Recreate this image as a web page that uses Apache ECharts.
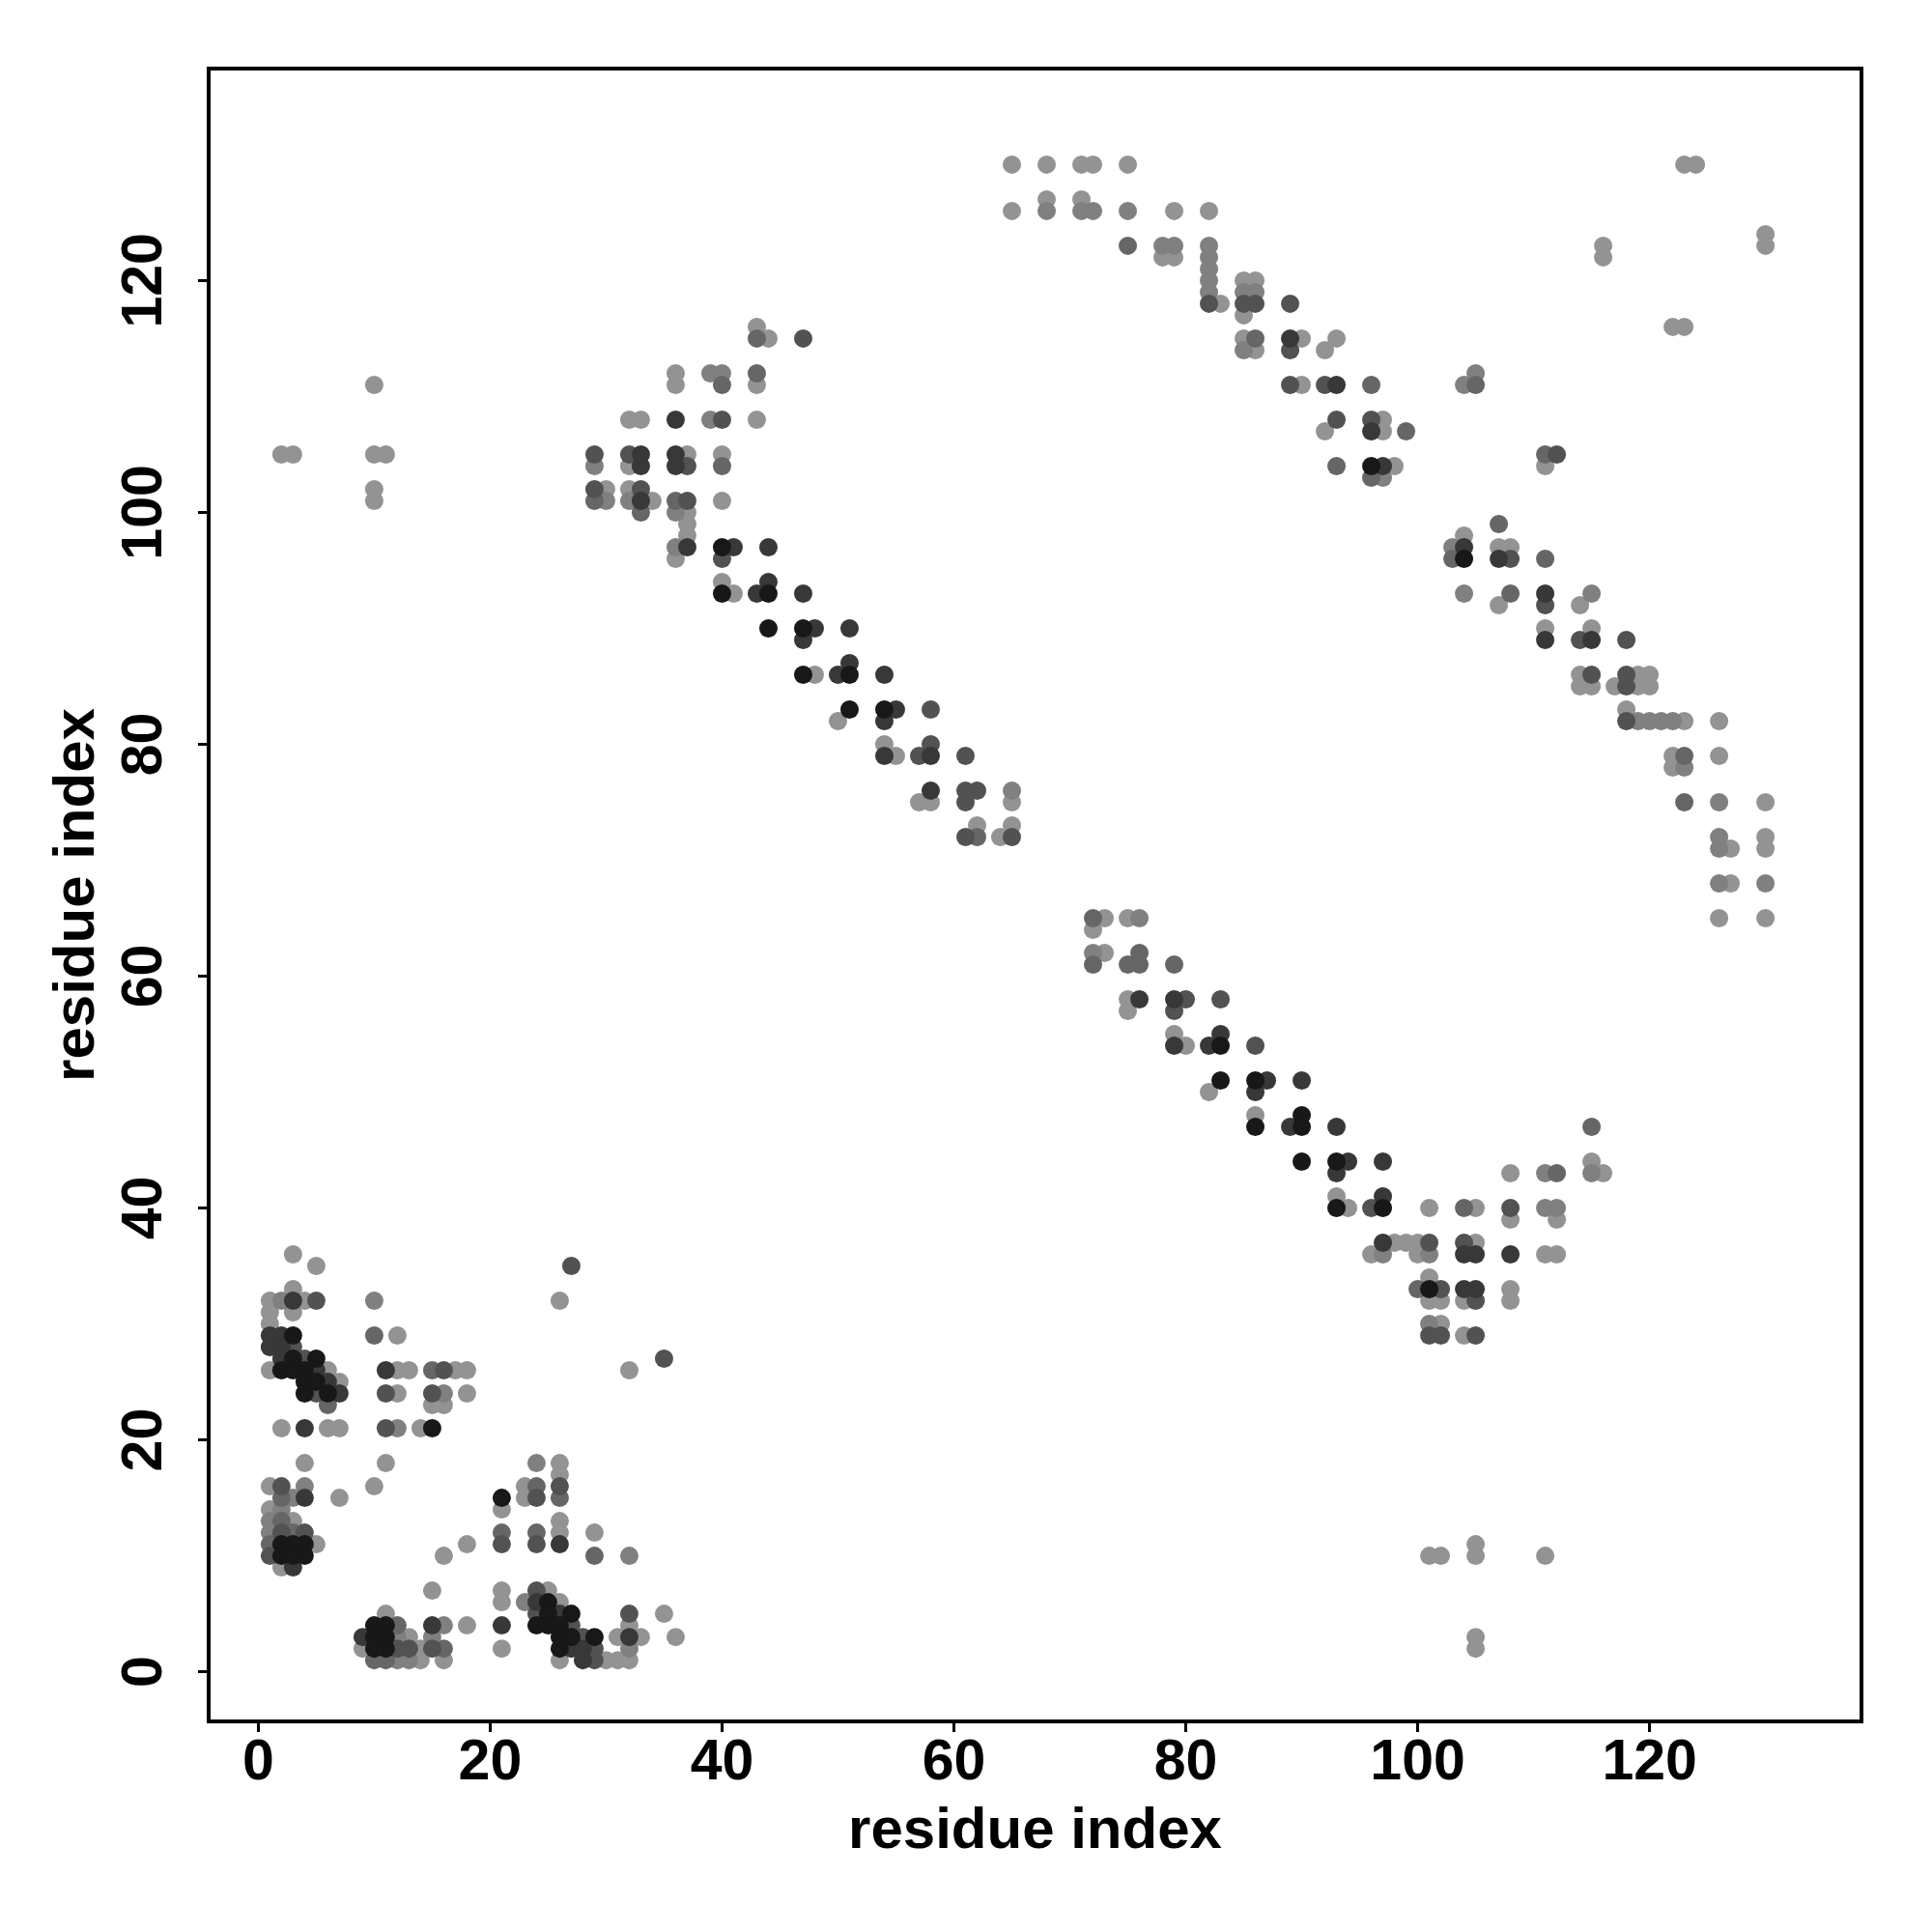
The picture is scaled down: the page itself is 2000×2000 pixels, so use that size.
<!DOCTYPE html>
<html>
<head>
<meta charset="utf-8">
<script src="https://cdn.jsdelivr.net/npm/echarts@6/dist/echarts.min.js"></script>
<style>html,body{margin:0;padding:0;background:#fff}#c{width:2000px;height:2000px}</style>
</head>
<body>
<div id="c"></div>
<script>
// contact strength levels (0 = weak/light, 1 = strong/dark)
const L = 0, LM = 0.15, M = 0.35, MD = 0.5, D = 0.7, K = 0.95;

const xTicks = [0, 20, 40, 60, 80, 100, 120];
const yTicks = [0, 20, 40, 60, 80, 100, 120];

// [residue i, residue j, strength]
const clusterA = [
[4,18,L],[11,18,L],
[1,16,L],[2,16,MD],[4,16,LM],[10,16,L],
[2,15,M],[3,15,LM],[4,15,D],[7,15,L],
[1,14,L],[2,14,LM],
[1,13,LM],[2,13,M],[3,13,L],
[1,12,LM],[2,12,MD],[3,12,M],[4,12,MD],
[1,11,M],[2,11,K],[3,11,K],[4,11,K],[5,11,L],
[1,10,MD],[2,10,K],[3,10,K],[4,10,K],
[2,9,L],[3,9,D],
[16,10,L],[18,11,L],[15,7,L],[11,5,L],
[10,4,K],[11,4,K],[12,4,M],[15,4,D],[16,4,LM],[18,4,L],
[9,3,D],[10,3,K],[11,3,K],[12,3,LM],[13,3,L],[15,3,LM],
[9,2,L],[10,2,K],[11,2,K],[12,2,MD],[13,2,MD],[14,2,L],[15,2,MD],[16,2,M],
[10,1,M],[11,1,M],[12,1,LM],[13,1,LM],[14,1,L],[16,1,L]
];
const clusterB = [
[3,36,L],[5,35,L],[3,33,L],
[1,32,L],[2,32,LM],[3,32,D],[4,32,L],[5,32,MD],[10,32,LM],
[1,31,L],[3,31,L],[1,30,L],
[1,29,D],[2,29,D],[3,29,K],[10,29,M],[12,29,L],
[1,28,D],[2,28,D],[3,28,MD],
[2,27,D],[3,27,K],[4,27,MD],[5,27,K],
[1,26,L],[2,26,K],[3,26,K],[4,26,K],[5,26,D],[6,26,L],
[4,25,K],[5,25,K],[6,25,D],[7,25,L],
[4,24,K],[5,24,MD],[6,24,K],[7,24,D],
[6,23,M],
[2,21,L],[4,21,D],[6,21,L],[7,21,L],
[11,26,D],[12,26,L],[13,26,L],[15,26,M],[16,26,MD],[17,26,L],[18,26,L],
[11,24,MD],[12,24,L],[15,24,MD],[16,24,LM],[18,24,L],
[15,23,L],[16,23,L],
[11,21,MD],[12,21,LM],[14,21,L],[15,21,K]
];
const clusterC = [
[24,18,LM],[26,18,L],[26,17,L],
[23,16,L],[24,16,M],[26,16,MD],
[21,15,K],[23,15,L],[24,15,MD],[26,15,M],
[21,14,L],[26,13,L],
[21,12,M],[24,12,M],[26,12,L],[29,12,L],
[21,11,MD],[24,11,MD],[26,11,D],
[29,10,M],[32,10,LM],
[21,7,L],[24,7,MD],[25,7,L],
[21,6,L],[23,6,LM],[24,6,D],[25,6,K],[26,6,L],
[24,5,MD],[25,5,K],[26,5,D],[27,5,K],
[21,4,D],[24,4,K],[25,4,K],[26,4,K],[27,4,MD],
[26,3,K],[27,3,K],[28,3,MD],[29,3,K],
[21,2,L],[26,2,K],[27,2,D],[28,2,D],[29,2,MD],
[26,1,L],[28,1,D],[29,1,MD],[30,1,L],[31,1,L],[32,1,L],
[32,5,MD],[32,4,L],[31,3,L],[32,3,D],[33,3,L],[32,2,LM],
[35,5,L],[36,3,L],
[27,35,MD],[26,32,L],[32,26,L],[35,27,MD]
];
const clusterD = [
[2,105,L],[3,105,L],[10,111,L],[10,105,L],[11,105,L],[10,102,L],[10,101,L]
];
const clusterE = [
[43,116,L],[43,115,M],[44,115,L],[47,115,MD],
[36,112,L],[36,111,L],[39,112,LM],[40,112,LM],[40,111,M],[43,112,M],[43,111,L],
[32,108,L],[33,108,L],[36,108,D],[39,108,LM],[40,108,MD],[43,108,L],
[29,105,MD],[29,104,LM],[32,105,MD],[33,105,D],[32,104,L],[33,104,D],
[36,105,D],[37,105,L],[36,104,D],[37,104,MD],[40,105,L],[40,104,M],
[29,102,MD],[29,101,M],[30,102,L],[30,101,LM],
[32,102,L],[33,102,MD],[32,101,LM],[33,101,D],[34,101,L],[33,100,M],
[36,101,M],[37,101,MD],[36,100,LM],[37,100,L],[37,99,L],[37,98,L],[40,101,L],
[36,97,LM],[37,97,D],[36,96,L],
[40,97,K],[41,97,D],[40,96,MD],[44,97,D],
[40,94,L],[40,93,K],[41,93,L],[43,93,D],[44,94,D],[44,93,K],[47,93,D],
[44,90,K],[47,90,K],[48,90,D],[47,89,D],
[47,86,K],[48,86,L],[50,86,D]
];
const clusterF = [
[51,90,D],[51,87,D],[51,86,K],[54,86,D],
[51,83,K],[50,82,L],[54,83,K],[55,83,D],[54,82,D],[58,83,MD],
[54,80,L],[54,79,D],[55,79,L],[57,79,MD],[58,80,MD],[58,79,D],[61,79,MD],
[57,75,L],[58,75,L],[58,76,D],
[61,76,MD],[62,76,MD],[61,75,MD],[65,76,LM],[65,75,L],
[61,72,MD],[62,73,L],[62,72,M],[64,72,L],[65,73,L],[65,72,MD]
];
const clusterG = [
[65,130,L],[68,130,L],[71,130,L],[72,130,L],[75,130,L],
[65,126,L],[68,127,L],[68,126,LM],[71,127,L],[71,126,LM],[72,126,LM],[75,126,LM],[79,126,L],[82,126,L],
[75,123,M],[78,123,LM],[79,123,LM],[78,122,L],[79,122,L],
[82,123,LM],[82,122,LM],[82,121,LM],[82,120,LM],[82,119,LM],[82,118,MD],[83,118,L],
[85,120,L],[86,120,L],[85,119,LM],[86,119,LM],[85,118,MD],[86,118,MD],[85,117,L],
[89,118,MD],
[85,115,L],[86,115,M],[85,114,LM],[86,114,L],
[89,115,D],[90,115,L],[89,114,MD],
[89,111,MD],[90,111,L]
];
const clusterH = [
[93,115,L],[92,114,L],
[92,111,MD],[93,111,D],[96,111,M],
[93,108,MD],[92,107,L],[96,108,MD],[97,108,L],[96,107,D],[97,107,L],[99,107,M],
[93,104,M],[96,104,K],[97,104,D],[98,104,L],[96,103,M],[97,103,LM],
[105,112,LM],[104,111,LM],[105,111,M],
[111,105,M],[112,105,MD],[111,104,L]
];
const clusterI = [
[104,98,L],[103,97,LM],[104,97,D],[103,96,M],[104,96,K],
[107,99,M],[107,97,L],[108,97,L],[107,96,D],[108,96,MD],
[111,96,M],
[104,93,LM],[108,93,M],[107,92,L],
[111,93,D],[111,92,MD],
[115,93,LM],[114,92,L],
[111,90,L],[111,89,D],
[114,89,MD],[115,90,L],[115,89,D],[118,89,MD],
[114,86,L],[115,86,MD],[114,85,L],[115,85,L],
[117,85,L],[118,86,MD],[118,85,MD],[119,86,L],[120,86,L],[119,85,L],[120,85,L],
[118,83,L],[118,82,MD],[119,82,LM],[120,82,LM],[121,82,LM],[122,82,LM],[123,82,L],[126,82,L]
];
const clusterJ = [
[122,79,L],[123,79,M],[122,78,L],[123,78,LM],[126,79,L],
[123,75,M],[126,75,LM],[130,75,L],
[126,72,LM],[126,71,LM],[127,71,L],[130,72,L],[130,71,L],
[126,68,LM],[127,68,L],[130,68,LM],
[126,65,L],[130,65,L]
];
const clusterK = [
[116,123,L],[116,122,L],[122,116,L],[123,116,L],[123,130,L],[124,130,L],[130,124,L],[130,123,L]
];
const clusterM = [
[72,65,M],[73,65,L],[72,64,L],[75,65,L],[76,65,LM],
[72,62,LM],[73,62,L],[72,61,M],[75,61,M],[76,62,M],[76,61,M],[79,61,M],
[75,58,L],[75,57,L],[76,58,D],
[79,58,D],[80,58,MD],[79,57,MD],[83,58,MD],
[79,55,L],[79,54,D],[80,54,L],[82,54,D],[83,55,D],[83,54,K],[86,54,MD],
[83,51,K],[82,50,L],[86,51,K],[87,51,D],[86,50,D],[90,51,D],
[86,48,L],[86,47,K],[89,47,D],[90,48,K],[90,47,K],[93,47,D],
[90,44,K],[93,44,K],[94,44,D],[93,43,D],[97,44,D],
[93,41,L],[93,40,K],[94,40,L],[96,40,MD],[97,41,D],[97,40,K],
[97,37,D],[98,37,L],[96,36,L],[97,36,LM]
];
const clusterN = [
[115,47,M],[101,40,L],
[108,43,L],[111,43,LM],[112,43,M],[115,44,L],[115,43,LM],[116,43,L],
[104,40,M],[105,40,L],[108,40,MD],[108,39,L],[111,40,LM],[112,40,LM],[112,39,L],
[99,37,L],[100,37,L],[101,37,MD],[100,36,L],[101,36,LM],
[104,37,MD],[105,37,L],[104,36,D],[105,36,D],[108,36,D],[111,36,L],[112,36,L],
[101,34,L],[100,33,M],[101,33,K],[102,33,MD],[101,32,L],[102,32,L],
[104,33,D],[105,33,D],[104,32,L],[105,32,MD],[108,33,L],[108,32,L],
[101,30,LM],[102,30,L],[101,29,MD],[102,29,MD],[104,29,L],[105,29,MD]
];
const clusterP = [
[101,10,L],[102,10,L],[105,11,L],[105,10,L],[111,10,L],[105,3,L],[105,2,L]
];

const allPoints = [].concat(clusterA, clusterB, clusterC, clusterD, clusterE, clusterF,
  clusterG, clusterH, clusterI, clusterJ, clusterK, clusterM, clusterN, clusterP)
  .slice().sort((a, b) => a[2] - b[2]);

const FONT = "'Liberation Sans', Arial, Helvetica, sans-serif";
const chart = echarts.init(document.getElementById('c'), null, {renderer: 'canvas'});

const axisCommon = {
  type: 'value',
  min: -4.28,
  max: 138.28,
  nameLocation: 'middle',
  nameTextStyle: {fontFamily: FONT, fontWeight: 'bold', fontSize: 60, color: '#000'},
  axisLine: {show: false, onZero: false},
  splitLine: {show: false},
  axisTick: {show: true, length: 11, lineStyle: {color: '#000', width: 3}},
  axisLabel: {fontFamily: FONT, fontWeight: 'bold', fontSize: 59, color: '#000'}
};

chart.setOption({
  animation: false,
  backgroundColor: '#fff',
  grid: {left: 216, right: 73, top: 71, bottom: 218, show: true, borderColor: '#000', borderWidth: 4, backgroundColor: 'transparent'},
  visualMap: {type: 'continuous', show: false, dimension: 2, min: 0, max: 1,
    inRange: {color: ['#939393', '#111111']}},
  xAxis: Object.assign({}, axisCommon, {
    name: 'residue index', nameGap: 84,
    axisTick: Object.assign({}, axisCommon.axisTick, {customValues: xTicks}),
    axisLabel: Object.assign({}, axisCommon.axisLabel, {customValues: xTicks, margin: 14})
  }),
  yAxis: Object.assign({}, axisCommon, {
    name: 'residue index', nameGap: 106,
    axisTick: Object.assign({}, axisCommon.axisTick, {customValues: yTicks}),
    axisLabel: Object.assign({}, axisCommon.axisLabel, {customValues: yTicks, rotate: 90, margin: 36})
  }),
  series: [{
    type: 'scatter',
    symbol: 'circle',
    symbolSize: 19,
    data: allPoints,
    itemStyle: {opacity: 1}
  }]
});
</script>
</body>
</html>
